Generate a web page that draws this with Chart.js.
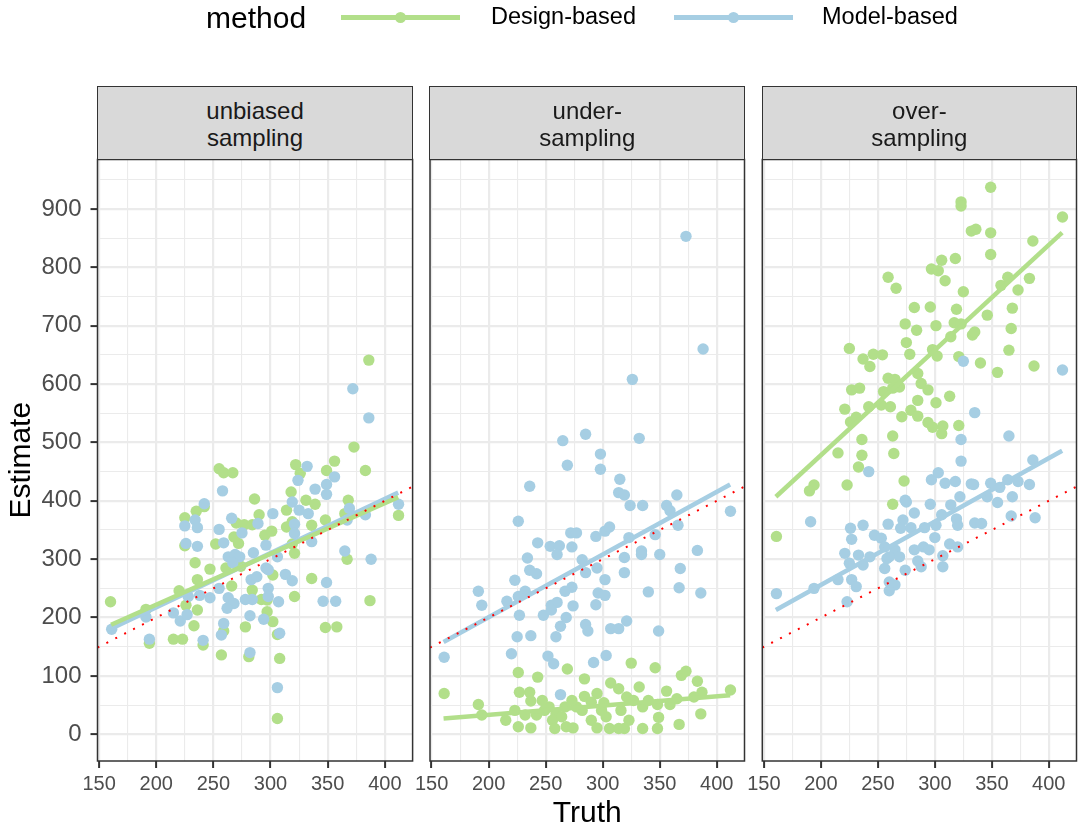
<!DOCTYPE html>
<html>
<head>
<meta charset="utf-8">
<script src="https://cdn.jsdelivr.net/npm/chart.js@4.4.1/dist/chart.umd.min.js"></script>
<style>
  html, body { margin: 0; padding: 0; background: #ffffff; }
  body { width: 1084px; height: 829px; position: relative; overflow: hidden;
         font-family: "Liberation Sans", Arial, Helvetica, sans-serif; }
  canvas { position: absolute; top: 0; }
  .txt { position: absolute; white-space: nowrap; line-height: 1; color: #000; }
  .key-line { position: absolute; height: 5px; }
  .key-dot { position: absolute; width: 11px; height: 11px; border-radius: 50%; }
  .strip { position: absolute; box-sizing: border-box; background: #D9D9D9;
           border: 1.5px solid #333333; display: flex; align-items: center;
           justify-content: center; text-align: center; color: #1A1A1A;
           font-size: 24px; line-height: 27px; padding-top: 2px; }
</style>
</head>
<body>
<canvas id="c1" width="440" height="829" style="left:0px;width:440px;height:829px"></canvas>
<canvas id="c2" width="400" height="829" style="left:390px;width:400px;height:829px"></canvas>
<canvas id="c3" width="362" height="829" style="left:722px;width:362px;height:829px"></canvas>

<div class="txt" style="left:206px;top:3px;font-size:30px;">method</div>
<div class="key-line" id="k1line" style="left:341px;top:14.5px;width:119px;"></div>
<div class="key-dot" id="k1dot" style="left:394.5px;top:11.5px;"></div>
<div class="txt" id="k1txt" style="left:491px;top:5px;font-size:23.5px;"></div>
<div class="key-line" id="k2line" style="left:674px;top:14.5px;width:119px;"></div>
<div class="key-dot" id="k2dot" style="left:727.5px;top:11.5px;"></div>
<div class="txt" id="k2txt" style="left:822px;top:5px;font-size:23.5px;"></div>

<script>
// ---------------- DATA ----------------
const methods = ['Design-based', 'Model-based'];
const panelTitles = [['unbiased', 'sampling'], ['under-', 'sampling'], ['over-', 'sampling']];

const xTickValues = [150, 175, 200, 225, 250, 275, 300, 325, 350, 375, 400];
const xMajorTicks = [150, 200, 250, 300, 350, 400];
const yTickValues = [0, 50, 100, 150, 200, 250, 300, 350, 400, 450, 500, 550, 600, 650, 700, 750, 800, 850, 900, 950];
const yMajorTicks = [0, 100, 200, 300, 400, 500, 600, 700, 800, 900];
const xLimits = [148.6, 424.3];
const yLimits = [-45.7, 984.6];

// panel 1: unbiased sampling
const truthUnbiasedDesign = [160,386,373,383,255,259,267,322,356,349,326,286,318,331,339,368,365,412,225,235,242,290,270,277,284,314,314,319,336,348,225,252,268,272,295,301,321,319,367,234,247,261,236,220,266,274,284,302,336,321,292,297,236,226,191,297,302,233,278,259,215,223,194,241,257,281,306,308,348,358,387,306];
const estUnbiasedDesign   = [227,641,492,452,455,448,448,462,468,452,447,403,415,401,394,401,378,375,371,382,390,376,362,359,359,384,355,364,358,367,323,326,338,327,341,348,310,326,300,294,283,285,265,246,254,288,247,273,267,236,231,230,213,221,214,210,193,186,184,177,163,163,156,153,136,133,171,130,183,184,229,27];
const truthUnbiasedModel  = [372,386,332,324,339,356,349,349,258,242,266,302,319,325,333,321,321,336,369,367,383,412,225,234,236,255,275,289,226,236,259,263,269,273,267,285,296,296,306,283,288,298,313,319,298,298,307,255,263,268,262,278,284,247,238,228,215,221,227,191,161,194,241,259,257,282,294,308,282,306,346,349,357,365,388];
const estUnbiasedModel    = [592,542,459,435,420,441,428,411,417,395,370,378,398,384,378,360,344,330,387,367,376,394,357,367,354,351,345,361,327,322,328,304,308,304,294,311,324,285,304,265,270,282,274,263,250,236,227,250,234,224,216,231,231,234,238,236,208,194,205,201,180,163,161,190,170,203,197,173,140,80,228,260,228,314,300];

// panel 2: under-sampling
const truthUnderDesign = [161,191,194,226,243,269,284,325,346,369,373,383,387,412,356,307,314,332,227,236,237,223,215,226,237,232,242,253,259,256,258,268,274,264,267,277,273,284,282,290,295,295,301,303,306,314,319,323,316,321,327,335,340,335,348,349,348,359,367,386,365,380,290,299,247,249];
const estUnderDesign   = [70,51,33,106,98,112,95,122,114,101,108,91,72,76,74,88,78,81,72,72,57,41,24,13,11,33,33,47,35,24,10,13,11,30,47,47,58,65,41,24,11,70,54,30,10,10,10,24,41,64,58,47,58,10,10,29,51,51,17,35,61,64,55,41,58,41];
const truthUnderModel  = [373,388,326,285,265,332,298,298,269,315,236,314,319,365,324,335,356,359,412,366,226,272,277,294,302,306,323,346,243,254,262,260,273,234,282,319,334,334,350,383,236,242,285,295,319,368,223,302,191,232,226,216,273,267,296,302,367,340,386,194,255,260,274,294,227,248,255,268,263,285,287,307,314,321,349,225,237,259,161,220,252,257,292,303,263];
const estUnderModel    = [853,660,608,514,503,507,480,454,461,437,425,414,410,410,392,392,392,383,382,358,365,345,345,339,348,355,337,342,328,322,323,308,321,302,299,303,314,308,308,315,281,275,277,285,277,284,264,265,245,245,236,228,252,245,242,238,251,244,242,221,221,226,220,222,204,204,213,200,185,188,177,181,181,194,177,167,169,167,132,138,134,121,123,135,68];

// panel 3: over-sampling
const truthOverDesign = [349,323,323,412,332,336,349,386,349,306,318,297,303,309,259,266,325,358,364,383,373,282,296,319,346,368,274,284,301,317,323,333,335,367,314,275,298,302,321,365,225,237,243,246,254,278,340,355,387,285,259,265,269,255,263,227,234,288,294,285,253,261,279,285,301,313,221,226,231,242,271,294,298,306,307,321,236,263,215,236,264,233,194,190,223,273,263,161];
const estOverDesign   = [937,912,905,886,862,865,859,845,822,812,815,797,794,777,783,764,758,769,783,781,761,731,732,728,718,730,703,692,700,705,703,684,689,695,681,671,659,648,647,658,661,643,630,651,650,651,636,620,631,618,610,608,595,587,593,590,593,601,590,572,564,561,555,545,568,579,557,535,543,561,544,534,526,515,528,529,505,511,482,478,481,458,427,417,427,434,394,339];
const truthOverModel  = [412,325,335,365,323,323,386,242,297,303,309,318,332,334,349,357,364,373,383,274,275,296,314,322,346,355,368,282,306,319,320,335,341,367,388,191,226,237,259,272,270,279,291,301,227,247,253,300,313,320,256,265,282,290,295,221,233,243,307,258,269,225,237,256,274,288,307,285,260,215,227,231,260,265,260,194,161,223];
const estOverModel    = [624,639,551,511,505,468,470,450,436,448,430,433,429,428,430,423,436,433,428,401,398,394,393,407,407,397,407,379,376,369,358,362,361,374,371,364,353,358,360,367,353,354,354,358,334,341,336,337,326,321,321,316,316,321,316,310,307,304,306,301,304,293,290,284,281,287,287,297,304,265,265,253,261,256,246,250,241,227];

// fitted regression lines (truth range and fitted estimates)
const fitTruth = [160.5, 411.7];
const fitUnbiasedDesign = [187.7, 406.2];
const fitUnbiasedModel  = [181.1, 414.0];
const fitUnderDesign    = [27.0, 67.0];
const fitUnderModel     = [158.0, 428.0];
const fitOverDesign     = [406.9, 859.4];
const fitOverModel      = [213.0, 485.7];

// ---------------- STYLE ----------------
const GREEN = '#B2DF8A';
const BLUE = '#A6CEE3';
const FONT = '"Liberation Sans", Arial, Helvetica, sans-serif';

const panels = [
  { id: 'c1', title: panelTitles[0], dT: truthUnbiasedDesign, dE: estUnbiasedDesign, mT: truthUnbiasedModel, mE: estUnbiasedModel, fD: fitUnbiasedDesign, fM: fitUnbiasedModel, pad: { left: 0, right: 27.4 } },
  { id: 'c2', title: panelTitles[1], dT: truthUnderDesign, dE: estUnderDesign, mT: truthUnderModel, mE: estUnderModel, fD: fitUnderDesign, fM: fitUnderModel, pad: { left: 40, right: 45.5 } },
  { id: 'c3', title: panelTitles[2], dT: truthOverDesign, dE: estOverDesign, mT: truthOverModel, mE: estOverModel, fD: fitOverDesign, fM: fitOverModel, pad: { left: 40.3, right: 7.5 } }
];

const toPts = (xs, ys) => xs.map((x, i) => ({ x: x, y: ys[i] }));

const framePlugin = {
  id: 'panelFrame',
  afterDatasetsDraw(chart) {
    const a = chart.chartArea, ctx = chart.ctx;
    ctx.save();
    ctx.strokeStyle = '#333333';
    ctx.lineWidth = 1.5;
    ctx.strokeRect(a.left, a.top, a.right - a.left, a.bottom - a.top);
    ctx.restore();
  }
};

const charts = [];
panels.forEach((p, i) => {
  const first = i === 0, mid = i === 1;
  const cfg = {
    type: 'scatter',
    data: {
      datasets: [
        { label: 'identity', type: 'line', data: toPts(xLimits, xLimits), borderColor: '#FF0000', borderWidth: 2,
          borderDash: [2, 8], pointRadius: 0, fill: false, order: 0 },
        { label: methods[0] + ' fit', type: 'line', data: toPts(fitTruth, p.fD), borderColor: GREEN, borderWidth: 4.5,
          pointRadius: 0, fill: false, order: 1 },
        { label: methods[1] + ' fit', type: 'line', data: toPts(fitTruth, p.fM), borderColor: BLUE, borderWidth: 4.5,
          pointRadius: 0, fill: false, order: 2 },
        { label: methods[1], data: toPts(p.mT, p.mE), backgroundColor: BLUE, borderColor: BLUE, borderWidth: 0,
          pointRadius: 5.7, order: 3 },
        { label: methods[0], data: toPts(p.dT, p.dE), backgroundColor: GREEN, borderColor: GREEN, borderWidth: 0,
          pointRadius: 5.7, order: 4 }
      ]
    },
    options: {
      responsive: false, animation: false, events: [],
      layout: { padding: { left: p.pad.left, right: p.pad.right, top: 159.5, bottom: 0 } },
      plugins: { legend: { display: false }, tooltip: { enabled: false }, title: { display: false } },
      scales: {
        x: {
          type: 'linear', min: xLimits[0], max: xLimits[1],
          afterBuildTicks: s => { s.ticks = xTickValues.map(v => ({ value: v })); },
          afterFit: s => { s.height = 68; },
          border: { display: false },
          grid: {
            color: '#EBEBEB',
            lineWidth: c => (c.tick && xMajorTicks.includes(c.tick.value)) ? 2.2 : 1.1,
            tickColor: c => (c.tick && xMajorTicks.includes(c.tick.value)) ? '#333333' : 'rgba(0,0,0,0)',
            tickLength: 7, tickWidth: 2
          },
          ticks: {
            autoSkip: false, maxRotation: 0, padding: 4, color: '#4D4D4D',
            font: { family: FONT, size: 20 },
            callback: v => xMajorTicks.includes(v) ? String(v) : ''
          },
          title: { display: mid, text: 'Truth', color: '#000000', padding: 0,
                   font: { family: FONT, size: 30, lineHeight: 1.0 } }
        },
        y: {
          type: 'linear', min: yLimits[0], max: yLimits[1],
          afterBuildTicks: s => { s.ticks = yTickValues.map(v => ({ value: v })); },
          afterFit: s => { s.width = first ? 97.5 : 0; },
          border: { display: false },
          grid: {
            color: '#EBEBEB',
            lineWidth: c => (c.tick && yMajorTicks.includes(c.tick.value)) ? 2.2 : 1.1,
            tickColor: c => (c.tick && yMajorTicks.includes(c.tick.value)) ? '#333333' : 'rgba(0,0,0,0)',
            drawTicks: first, tickLength: 7, tickWidth: 2
          },
          ticks: {
            display: first, autoSkip: false, padding: 9, color: '#4D4D4D',
            font: { family: FONT, size: 24 },
            callback: v => yMajorTicks.includes(v) ? String(v) : ''
          },
          title: { display: first, text: 'Estimate', color: '#000000', padding: { top: 7, bottom: 0 },
                   font: { family: FONT, size: 30, lineHeight: 1.0 } }
        }
      }
    },
    plugins: [framePlugin]
  };
  charts.push(new Chart(document.getElementById(p.id), cfg));
});

// facet strips placed on top of each chart area
charts.forEach((ch, i) => {
  const a = ch.chartArea;
  const offset = parseFloat(ch.canvas.style.left);
  const d = document.createElement('div');
  d.className = 'strip';
  d.style.left = (offset + a.left - 0.75) + 'px';
  d.style.width = (a.right - a.left + 1.5) + 'px';
  d.style.top = '86px';
  d.style.height = (a.top - 86 + 0.75) + 'px';
  d.innerHTML = panels[i].title.join('<br>');
  document.body.appendChild(d);
});

// legend
document.getElementById('k1txt').textContent = methods[0];
document.getElementById('k2txt').textContent = methods[1];
document.getElementById('k1line').style.background = GREEN;
document.getElementById('k1dot').style.background = GREEN;
document.getElementById('k2line').style.background = BLUE;
document.getElementById('k2dot').style.background = BLUE;
</script>
</body>
</html>
